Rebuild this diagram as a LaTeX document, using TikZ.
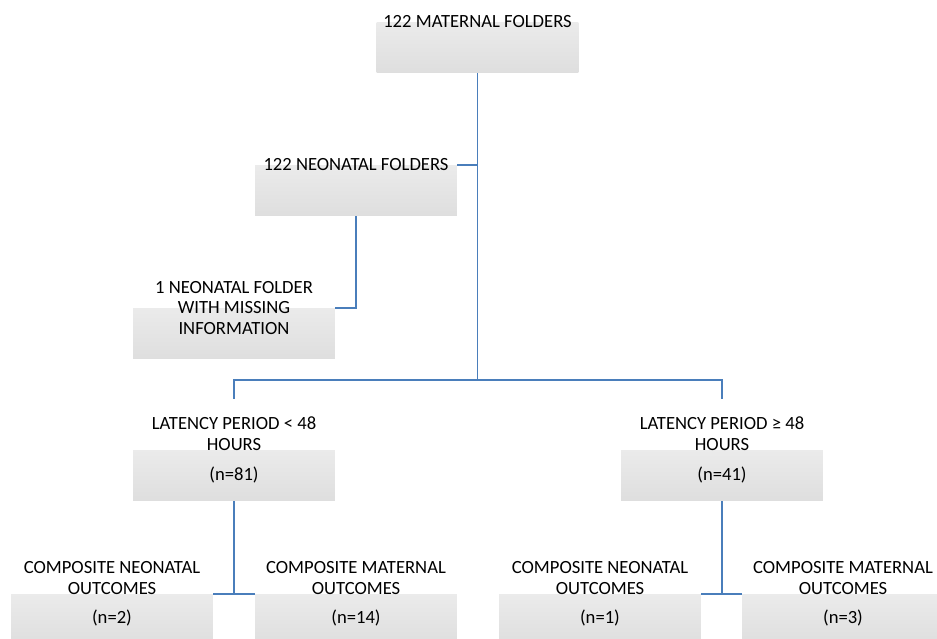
\documentclass[tikz,border=0pt]{standalone}
\usepackage{fontspec}
\setmainfont{Carlito}
\definecolor{linkblue}{RGB}{74,126,187}
\definecolor{boxtop}{RGB}{248,248,248}
\definecolor{boxgray}{RGB}{222,222,222}
\tikzset{box/.style={minimum width=4.04cm,minimum height=2.04cm,inner sep=0pt,
    align=center,font=\fontsize{10.6}{11.8}\selectfont,
    path picture={\shade[top color=boxtop,bottom color=boxgray]
      (path picture bounding box.west) rectangle (path picture bounding box.south east);}},
  link/.style={draw=linkblue,line width=0.8pt}}

\begin{document}
\begin{tikzpicture}[x=0.02cm,y=-0.02cm]
\useasboundingbox (0,0) rectangle (937,639);
\node[box] (mat) at (477.5,22) {122 MATERNAL FOLDERS};
\node[box] (neo) at (356,165) {122 NEONATAL FOLDERS};
\node[box] (miss) at (234,308) {1 NEONATAL FOLDER\\WITH MISSING\\INFORMATION};
\node[box] (lt) at (234,450) {LATENCY PERIOD < 48\\HOURS\\[5pt](n=81)};
\node[box] (ge) at (722,450) {LATENCY PERIOD ≥ 48\\HOURS\\[5pt](n=41)};
\node[box] (ltneo) at (112,594) {COMPOSITE NEONATAL\\OUTCOMES\\[5pt](n=2)};
\node[box] (ltmat) at (356,594) {COMPOSITE MATERNAL\\OUTCOMES\\[5pt](n=14)};
\node[box] (geneo) at (600,594) {COMPOSITE NEONATAL\\OUTCOMES\\[5pt](n=1)};
\node[box] (gemat) at (843,594) {COMPOSITE MATERNAL\\OUTCOMES\\[5pt](n=3)};
\coordinate (split) at (477.5,380);
\draw[link] (mat.south) -- (split);
\draw[link] (lt.north) |- (split) -| (ge.north);
\draw[link] (neo.east) -- (mat.south |- neo.east);
\draw[link] (neo.south) |- (miss.east);
\draw[link] (ltneo.east) -- (ltmat.west);
\draw[link] (lt.south) -- (lt.south |- ltneo.east);
\draw[link] (geneo.east) -- (gemat.west);
\draw[link] (ge.south) -- (ge.south |- geneo.east);
\end{tikzpicture}
\end{document}
